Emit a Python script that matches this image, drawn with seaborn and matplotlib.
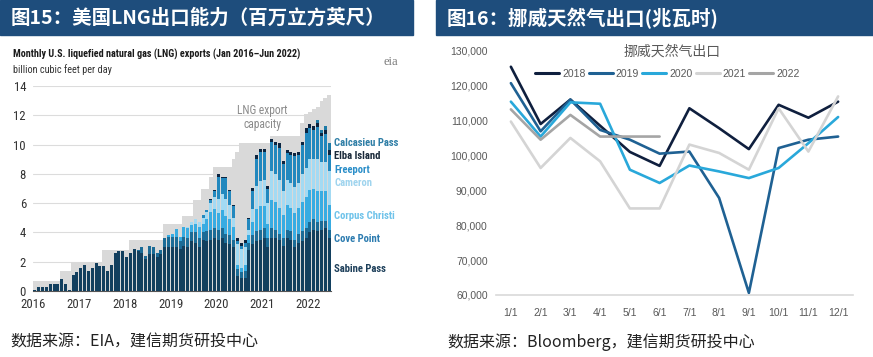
import numpy as np
import pandas as pd
import matplotlib
matplotlib.use('Agg')
import matplotlib.pyplot as plt
from matplotlib.patches import Rectangle
from matplotlib import font_manager
import seaborn as sns

sns.set_theme(style='white')
plt.rcParams['font.family'] = ['Liberation Sans', 'Noto Sans CJK SC', 'DejaVu Sans']

CJK = ['Noto Sans CJK SC', 'DejaVu Sans']
installed = {f.name for f in font_manager.fontManager.ttflist}
narrow_name = next((f for f in ['Liberation Sans Narrow', 'Roboto Condensed',
                                'DejaVu Sans Condensed'] if f in installed), None)
NARROW = [narrow_name, 'Liberation Sans'] if narrow_name else ['Liberation Sans']
NARROW_SCALE = 1.0 if narrow_name else 0.82

# -------------------------------------------
# Left: monthly U.S. LNG exports by terminal, Jan 2016 - Jun 2022 (bcf/d)
# -------------------------------------------
sabine_pass = [
    0.05, 0.3, 0.3, 0.3, 0.5, 0.5, 0.5, 0.8, 0.5, 0.05, 1.1, 1.3,   # 2016
    1.6, 1.8, 1.4, 1.6, 1.9, 1.7, 1.7, 1.4, 1.8, 2.6, 2.7, 2.7,     # 2017
    2.3, 2.6, 2.9, 2.7, 2.6, 2.2, 2.5, 2.5, 2.3, 2.5, 3.0, 3.0,     # 2018
    3.0, 3.0, 2.9, 3.1, 3.0, 3.4, 3.3, 3.0, 3.5, 3.4, 3.5, 3.6,     # 2019
    3.5, 3.6, 3.3, 3.2, 3.0, 1.0, 0.9, 0.9, 2.8, 3.2, 3.4, 3.5,     # 2020
    3.6, 3.0, 3.6, 3.6, 3.5, 3.1, 3.6, 3.5, 3.0, 3.3, 3.4, 3.6,     # 2021
    4.0, 4.2, 4.1, 4.2, 4.3, 3.6,                                   # 2022
]
cove_point = [
    0, 0, 0, 0, 0, 0, 0, 0, 0, 0, 0, 0,
    0, 0, 0, 0, 0, 0, 0, 0, 0, 0, 0, 0,
    0, 0, 0, 0.1, 0.4, 0.2, 0.6, 0.5, 0.3, 0.3, 0.6, 0.7,
    0.7, 0.7, 0.5, 0.6, 0.6, 0.6, 0.7, 0.6, 0.5, 0.7, 0.7, 0.7,
    0.7, 0.7, 0.6, 0.6, 0.5, 0.5, 0.4, 0.5, 0.5, 0.6, 0.7, 0.7,
    0.7, 0.6, 0.7, 0.6, 0.4, 0.5, 0.6, 0.6, 0.5, 0.6, 0.7, 0.7,
    0.7, 0.7, 0.6, 0.6, 0.5, 0.6,
]
corpus_christi = [
    0, 0, 0, 0, 0, 0, 0, 0, 0, 0, 0, 0,
    0, 0, 0, 0, 0, 0, 0, 0, 0, 0, 0, 0,
    0, 0, 0, 0, 0, 0, 0, 0, 0, 0, 0, 0.1,
    0.2, 0.5, 0.3, 0.7, 0.7, 0.5, 0.6, 0.8, 0.6, 0.8, 1.2, 1.3,
    1.1, 1.2, 1.2, 1.1, 0.9, 0.3, 0.3, 0.4, 0.5, 0.9, 1.5, 1.6,
    1.5, 1.0, 1.9, 1.9, 1.8, 1.6, 1.7, 1.6, 1.8, 1.8, 2.0, 2.1,
    2.2, 2.1, 2.1, 2.0, 2.0, 1.7,
]
cameron = [
    0, 0, 0, 0, 0, 0, 0, 0, 0, 0, 0, 0,
    0, 0, 0, 0, 0, 0, 0, 0, 0, 0, 0, 0,
    0, 0, 0, 0, 0, 0, 0, 0, 0, 0, 0, 0,
    0, 0, 0, 0, 0.1, 0.2, 0.3, 0.3, 0.4, 0.5, 0.6, 0.8,
    1.0, 1.1, 1.2, 1.0, 0.6, 1.4, 1.3, 1.2, 0.4, 0.9, 1.6, 1.7,
    1.8, 1.4, 2.0, 1.9, 1.9, 1.6, 1.7, 1.7, 1.8, 1.7, 1.9, 2.0,
    2.1, 2.0, 2.2, 2.0, 2.0, 2.3,
]
freeport = [
    0, 0, 0, 0, 0, 0, 0, 0, 0, 0, 0, 0,
    0, 0, 0, 0, 0, 0, 0, 0, 0, 0, 0, 0,
    0, 0, 0, 0, 0, 0, 0, 0, 0, 0, 0, 0,
    0, 0, 0, 0, 0, 0, 0, 0, 0.2, 0.1, 0.2, 0.4,
    1.5, 1.1, 1.4, 0.9, 0.8, 0.2, 0.2, 0.3, 0.7, 1.2, 1.8, 2.0,
    1.9, 1.0, 2.0, 2.0, 2.2, 1.9, 1.8, 1.9, 2.1, 1.9, 2.0, 2.4,
    2.1, 2.0, 2.2, 1.8, 1.9, 1.1,
]
elba_island = [
    0, 0, 0, 0, 0, 0, 0, 0, 0, 0, 0, 0,
    0, 0, 0, 0, 0, 0, 0, 0, 0, 0, 0, 0,
    0, 0, 0, 0, 0, 0, 0, 0, 0, 0, 0, 0,
    0, 0, 0, 0, 0, 0, 0, 0, 0, 0, 0.1, 0.1,
    0.2, 0.1, 0.1, 0.1, 0.1, 0.2, 0.2, 0.2, 0.1, 0.2, 0.3, 0.2,
    0.2, 0.2, 0.2, 0.2, 0.3, 0.2, 0.2, 0.2, 0.2, 0.2, 0.2, 0.3,
    0.3, 0.3, 0.3, 0.2, 0.3, 0.3,
]
calcasieu_pass = [
    0, 0, 0, 0, 0, 0, 0, 0, 0, 0, 0, 0,
    0, 0, 0, 0, 0, 0, 0, 0, 0, 0, 0, 0,
    0, 0, 0, 0, 0, 0, 0, 0, 0, 0, 0, 0,
    0, 0, 0, 0, 0, 0, 0, 0, 0, 0, 0, 0,
    0, 0, 0, 0, 0, 0, 0, 0, 0, 0, 0, 0,
    0, 0, 0, 0, 0, 0, 0, 0, 0, 0, 0, 0,
    0, 0, 0.2, 0.2, 0.3, 0.5,
]
export_capacity = [
    0.7, 0.7, 0.7, 0.7, 0.7, 0.7, 0.7, 1.4, 1.4, 1.4, 2.0, 2.0,
    2.0, 2.0, 2.0, 2.0, 2.0, 2.0, 2.8, 2.8, 2.8, 2.8, 2.8, 2.8,
    2.8, 3.5, 3.5, 3.5, 3.5, 3.5, 3.5, 3.5, 3.5, 3.5, 4.6, 4.6,
    4.6, 4.6, 4.6, 5.1, 5.1, 5.1, 6.2, 6.2, 7.0, 7.0, 7.8, 8.5,
    8.5, 8.5, 8.5, 8.5, 9.0, 9.5, 10.1, 10.1, 10.1, 10.1, 10.1, 10.1,
    10.1, 10.1, 10.6, 10.6, 10.6, 10.6, 10.6, 10.6, 10.6, 10.6, 11.5, 12.1,
    12.2, 12.4, 12.6, 13.0, 13.2, 13.4,
]
terminals = ['Sabine Pass', 'Cove Point', 'Corpus Christi', 'Cameron',
             'Freeport', 'Elba Island', 'Calcasieu Pass']
terminal_colors = ['#123f5e', '#1b6b96', '#38ace2', '#a3daf3',
                   '#2288be', '#0b2440', '#1d7ba7']
label_colors = ['#1d3f5a', '#2d7cb0', '#6fc3ea', '#9fd4ee',
                '#2c8fc9', '#1a2a3a', '#2f7ea6']
label_y = [1.5, 3.55, 5.12, 7.37, 8.26, 9.2, 10.1]
years_lng = [2016, 2017, 2018, 2019, 2020, 2021, 2022]

# -------------------------------------------
# Right: Norway natural gas exports (MWh) by month
# -------------------------------------------
months = ['1/1', '2/1', '3/1', '4/1', '5/1', '6/1',
          '7/1', '8/1', '9/1', '10/1', '11/1', '12/1']
exports_2018 = [125400, 109000, 116000, 108500, 101000, 97000,
                113500, 107800, 101800, 114500, 110800, 115400]
exports_2019 = [120700, 106900, 116000, 107300, 104500, 100500,
                101100, 87800, 60600, 102100, 104500, 105400]
exports_2020 = [115400, 105400, 115200, 114800, 95900, 92100,
                97100, 95400, 93500, 96400, 103500, 111000]
exports_2021 = [109700, 96400, 105000, 98300, 84800, 84800,
                103100, 100700, 95900, 113500, 101100, 116900]
exports_2022 = [113200, 104500, 111600, 105400, 105400, 105400]
norway_years = ['2018', '2019', '2020', '2021', '2022']
norway_colors = ['#0f1f3e', '#1f6193', '#29a8da', '#d4d4d4', '#a5a5a5']

W, H = 873, 357
fig = plt.figure(figsize=(W / 100, H / 100), dpi=100)
fig.patch.set_facecolor('white')

# title banners
banner = '#1e4d7c'
fig.patches.append(Rectangle((0, 1 - 35 / H), 413 / W, 35 / H,
                             transform=fig.transFigure, color=banner, zorder=0))
fig.patches.append(Rectangle((436 / W, 1 - 35 / H), (W - 436) / W, 35 / H,
                             transform=fig.transFigure, color=banner, zorder=0))
fig.text(11 / W, 1 - 18 / H, '图15：美国LNG出口能力（百万立方英尺）', color='white',
         fontsize=14, fontweight='bold', family=CJK, va='center')
fig.text(447 / W, 1 - 18 / H, '图16：挪威天然气出口(兆瓦时)', color='white',
         fontsize=14, fontweight='bold', family=CJK, va='center')

# source lines
fig.text(10 / W, 1 - 342 / H, '数据来源：EIA，建信期货研投中心', color='#222222',
         fontsize=11.5, family=CJK, va='center', style='italic')
fig.text(447 / W, 1 - 342 / H, '数据来源：Bloomberg，建信期货研投中心', color='#222222',
         fontsize=11.5, family=CJK, va='center', style='italic')

# ---------------- left chart ----------------
fig.text(13 / W, 1 - 54 / H,
         'Monthly U.S. liquefied natural gas (LNG) exports (Jan 2016\u2013Jun 2022)',
         fontsize=8.3 * NARROW_SCALE * 0.88, fontweight='bold', family=NARROW,
         color='#1a1a1a', va='center')
fig.text(13 / W, 1 - 70 / H, 'billion cubic feet per day', fontsize=7.8 * NARROW_SCALE * 0.95,
         family=NARROW, color='#333333', va='center')
fig.text(391 / W, 1 - 62 / H, 'eia', fontsize=9, family=['Liberation Serif', 'DejaVu Serif'],
         color='#7a7a7a', ha='center', va='center')

ax1 = fig.add_axes([33 / W, 66 / H, 298 / W, 205 / H])
n = len(sabine_pass)
pos = np.array([years_lng[0] + (i + 0.5) / 12 for i in range(n)])
edges = np.array([years_lng[0] + i / 12 for i in range(n + 1)])
cap = np.append(export_capacity, export_capacity[-1])
ax1.fill_between(edges, cap, step='post', color='#d9d9d9', lw=0, zorder=1)

bottom = np.zeros(n)
for vals, c in zip([sabine_pass, cove_point, corpus_christi, cameron,
                    freeport, elba_island, calcasieu_pass], terminal_colors):
    v = np.array(vals, dtype=float)
    ax1.bar(pos, v, width=0.78 / 12, bottom=bottom, color=c, linewidth=0, zorder=3)
    bottom += v

for name, yv, c in zip(terminals, label_y, label_colors):
    ax1.text(2022.57, yv, name, color=c, fontsize=8.3 * NARROW_SCALE * 0.92,
             fontweight='bold', family=NARROW, va='center', ha='left', clip_on=False)
ax1.text(2021.0, 12.35, 'LNG export', color='#8a8a8a', fontsize=8.3 * NARROW_SCALE,
         family=NARROW, ha='center', va='center')
ax1.text(2021.0, 11.4, 'capacity', color='#8a8a8a', fontsize=8.3 * NARROW_SCALE,
         family=NARROW, ha='center', va='center')

ax1.set_xlim(2016, 2022.5)
ax1.set_ylim(0, 14)
ax1.set_yticks(range(0, 15, 2))
ax1.set_xticks(years_lng)
ax1.set_xticklabels([str(y) for y in years_lng])
ax1.grid(axis='y', color='#dcdcdc', linewidth=0.8, zorder=0)
ax1.set_axisbelow(True)
for s in ['top', 'right', 'left']:
    ax1.spines[s].set_visible(False)
ax1.spines['bottom'].set_color('#555555')
ax1.spines['bottom'].set_linewidth(0.8)
ax1.tick_params(axis='x', direction='out', length=3, width=0.8, color='#555555',
                labelsize=9.2 * NARROW_SCALE, labelcolor='#333333', pad=2)
ax1.tick_params(axis='y', length=0, labelsize=9.2 * NARROW_SCALE, labelcolor='#333333', pad=5)
for lab in ax1.get_xticklabels() + ax1.get_yticklabels():
    lab.set_family(NARROW)
ax1.patch.set_alpha(0)

# ---------------- right chart ----------------
ax2 = fig.add_axes([496 / W, 62 / H, 357 / W, 244.3 / H])
rows = []
for yr, vals in zip(norway_years, [exports_2018, exports_2019, exports_2020,
                                   exports_2021, exports_2022]):
    for i, v in enumerate(vals):
        rows.append({'year': yr, 'month': i, 'value': v})
df_norway = pd.DataFrame(rows)

sns.lineplot(data=df_norway, x='month', y='value', hue='year',
             hue_order=norway_years, palette=dict(zip(norway_years, norway_colors)),
             linewidth=1.9, ax=ax2, sort=False)
sns.move_legend(ax2, 'center', bbox_to_anchor=(0.48, 0.905), ncol=5,
                frameon=False, title=None, fontsize=7.5, handlelength=2.3,
                handletextpad=0.3, columnspacing=0.3)
for t in ax2.get_legend().get_texts():
    t.set_color('#595959')
for lh in ax2.get_legend().legend_handles:
    lh.set_linewidth(2.2)

ax2.text(0.493, 0.995, '挪威天然气出口', transform=ax2.transAxes, ha='center',
         va='center', fontsize=10, color='#595959', family=CJK)

ax2.set_xlim(-0.5, 11.5)
ax2.set_ylim(60000, 130000)
ax2.set_yticks(range(60000, 130001, 10000))
ax2.set_yticklabels([f'{v:,}' for v in range(60000, 130001, 10000)])
ax2.set_xticks(range(len(months)))
ax2.set_xticklabels(months)
ax2.set_xticks(np.arange(-0.5, 12, 1), minor=True)
ax2.set_xlabel('')
ax2.set_ylabel('')
for s in ['top', 'right', 'left']:
    ax2.spines[s].set_visible(False)
ax2.spines['bottom'].set_color('#d9d9d9')
ax2.spines['bottom'].set_linewidth(1.2)
ax2.tick_params(axis='x', which='major', length=0, labelsize=7.5,
                labelcolor='#595959', pad=9)
ax2.tick_params(axis='x', which='minor', direction='out', length=4,
                color='#d9d9d9', width=1)
ax2.tick_params(axis='y', length=0, labelsize=7.5, labelcolor='#595959', pad=6)
ax2.grid(False)
ax2.patch.set_alpha(0)

plt.savefig('out.png', dpi=100)
